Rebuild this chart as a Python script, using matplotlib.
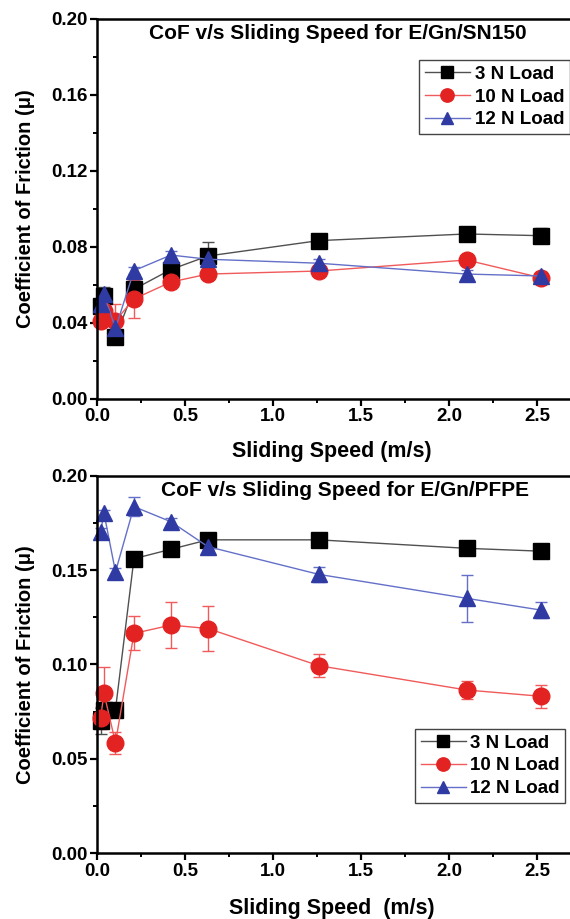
import matplotlib
matplotlib.use("Agg")
import matplotlib.pyplot as plt
from matplotlib.ticker import MultipleLocator, FormatStrFormatter

plt.rcParams['font.family'] = ['Liberation Sans', 'DejaVu Sans']
plt.rcParams['font.weight'] = 'bold'

speed = [0.02, 0.04, 0.105, 0.21, 0.42, 0.63, 1.26, 2.1, 2.52]
labels = ["3 N Load", "10 N Load", "12 N Load"]

sn_3n = [0.049, 0.054, 0.0323, 0.0576, 0.068, 0.0751, 0.0832, 0.0867, 0.0858]
sn_3n_err = [0.002, 0.005, 0.002, 0.004, 0.003, 0.0075, 0.003, 0.003, 0.004]
sn_10n = [0.041, 0.046, 0.041, 0.0525, 0.0614, 0.0656, 0.0672, 0.073, 0.0637]
sn_10n_err = [0.002, 0.003, 0.009, 0.010, 0.002, 0.002, 0.002, 0.002, 0.002]
sn_12n = [0.050, 0.055, 0.037, 0.0674, 0.0756, 0.0734, 0.0713, 0.0656, 0.0646]
sn_12n_err = [0.002, 0.003, 0.002, 0.002, 0.002, 0.002, 0.002, 0.002, 0.002]

pf_3n = [0.070, 0.076, 0.076, 0.156, 0.161, 0.166, 0.166, 0.1615, 0.160]
pf_3n_err = [0.007, 0.003, 0.002, 0.002, 0.002, 0.002, 0.003, 0.002, 0.002]
pf_10n = [0.0715, 0.0846, 0.0584, 0.1164, 0.1208, 0.119, 0.0993, 0.0864, 0.0831]
pf_10n_err = [0.006, 0.014, 0.006, 0.009, 0.012, 0.012, 0.006, 0.005, 0.006]
pf_12n = [0.1703, 0.180, 0.149, 0.1836, 0.1756, 0.1624, 0.1477, 0.135, 0.1288]
pf_12n_err = [0.002, 0.002, 0.002, 0.005, 0.002, 0.002, 0.004, 0.0125, 0.004]

styles = [
    dict(marker='s', mfc='#000000', mec='#000000', color='#505050', ms=11),
    dict(marker='o', mfc='#e32222', mec='#e32222', color='#f05a5a', ms=12),
    dict(marker='^', mfc='#2f3ba3', mec='#2f3ba3', color='#6470c8', ms=11),
]

fig = plt.figure(figsize=(5.7, 9.19), dpi=100)
W, H = 570.0, 919.0
left_px, right_px = 97.0, 573.0
panels = [
    dict(top=18.7, bottom=398.7, ymaj=0.04, ymin=0.02, fmt='%.2f',
         data=[(sn_3n, sn_3n_err), (sn_10n, sn_10n_err), (sn_12n, sn_12n_err)],
         title="CoF v/s Sliding Speed for E/Gn/SN150", tx=0.506,
         leg=(0.677, 0.891), xlabel="Sliding Speed (m/s)", xly=-0.112),
    dict(top=475.7, bottom=853.0, ymaj=0.05, ymin=0.025, fmt='%.2f',
         data=[(pf_3n, pf_3n_err), (pf_10n, pf_10n_err), (pf_12n, pf_12n_err)],
         title="CoF v/s Sliding Speed for E/Gn/PFPE", tx=0.52,
         leg=(0.668, 0.329), xlabel="Sliding Speed  (m/s)", xly=-0.12),
]

xmax = (right_px - left_px) / 176.0

for p in panels:
    ax = fig.add_axes([left_px / W, (H - p['bottom']) / H,
                       (right_px - left_px) / W, (p['bottom'] - p['top']) / H])
    handles = []
    for (vals, errs), st, lab in zip(p['data'], styles, labels):
        eb = ax.errorbar(speed, vals, yerr=errs, marker=st['marker'], ms=st['ms'],
                         mfc=st['mfc'], mec=st['mec'], color=st['color'], lw=1.0,
                         ecolor=st['color'], elinewidth=1.0, capsize=4, capthick=1.0,
                         label=lab, clip_on=False)
        handles.append(eb[0])
    ax.set_xlim(0, xmax)
    ax.set_ylim(0, 0.20)
    ax.xaxis.set_major_locator(MultipleLocator(0.5))
    ax.xaxis.set_minor_locator(MultipleLocator(0.25))
    ax.xaxis.set_major_formatter(FormatStrFormatter('%.1f'))
    ax.yaxis.set_major_locator(MultipleLocator(p['ymaj']))
    ax.yaxis.set_minor_locator(MultipleLocator(p['ymin']))
    ax.yaxis.set_major_formatter(FormatStrFormatter(p['fmt']))
    for s in ['left', 'bottom', 'top', 'right']:
        ax.spines[s].set_linewidth(1.8)
    ax.tick_params(which='major', direction='out', length=5, width=1.6,
                   labelsize=13.5, pad=2)
    ax.tick_params(which='minor', direction='out', length=3, width=1.4)
    ax.tick_params(top=False, right=False)
    for t in ax.get_xticklabels() + ax.get_yticklabels():
        t.set_fontweight('bold')
    ax.set_xlabel(p['xlabel'], fontsize=15.5, fontweight='bold')
    ax.xaxis.set_label_coords(0.494, p['xly'])
    ax.set_ylabel("Coefficient of Friction (μ)", fontsize=14.5, fontweight='bold')
    ax.yaxis.set_label_coords(-0.13, 0.5)
    ax.text(p['tx'], 0.962, p['title'], transform=ax.transAxes, ha='center',
            va='center', fontsize=15, fontweight='bold')
    leg = ax.legend(handles=handles, labels=labels, loc='upper left',
                    bbox_to_anchor=p['leg'],
                    fontsize=13.5, frameon=True, fancybox=False, framealpha=1,
                    edgecolor='#444444', borderpad=0.3, handlelength=2.4,
                    handletextpad=0.25, labelspacing=0.3, borderaxespad=0,
                    markerscale=0.8)
    leg.get_frame().set_linewidth(1.0)
    for t in leg.get_texts():
        t.set_fontweight('bold')

fig.savefig("out.png", dpi=100)
